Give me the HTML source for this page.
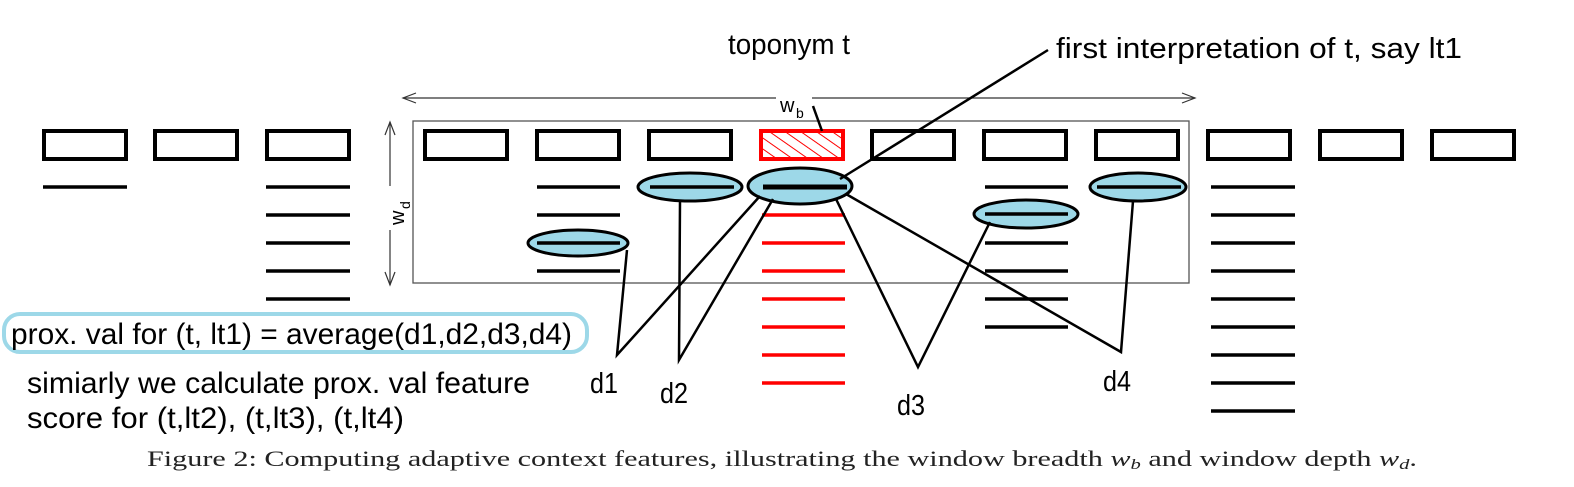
<!DOCTYPE html>
<html><head><meta charset="utf-8"><style>
html,body{margin:0;padding:0;background:#fff;}
svg{display:block;}
</style></head><body>
<svg width="1574" height="487" viewBox="0 0 1574 487" xmlns="http://www.w3.org/2000/svg">
<defs>
<pattern id="hatch" patternUnits="userSpaceOnUse" width="9" height="9" patternTransform="rotate(-55)">
<line x1="0" y1="0" x2="0" y2="9" stroke="#f00" stroke-width="2"/>
</pattern>
</defs>
<rect x="413" y="121" width="776" height="162" fill="none" stroke="#555" stroke-width="1.3"/>
<line x1="403" y1="98" x2="1195" y2="98" stroke="#333" stroke-width="1.2"/>
<polyline points="416,93 403,98 416,103" fill="none" stroke="#333" stroke-width="1.2"/>
<polyline points="1182,93 1195,98 1182,103" fill="none" stroke="#333" stroke-width="1.2"/>
<rect x="776" y="90" width="36" height="22" fill="#fff"/>
<text x="780" y="112" font-size="20" style="font-family:'Liberation Sans',sans-serif">w</text><text x="796" y="118" font-size="14" style="font-family:'Liberation Sans',sans-serif">b</text>
<line x1="390" y1="122" x2="390" y2="285" stroke="#333" stroke-width="1.2"/>
<polyline points="385,135 390,122 395,135" fill="none" stroke="#333" stroke-width="1.2"/>
<polyline points="385,272 390,285 395,272" fill="none" stroke="#333" stroke-width="1.2"/>
<rect x="382" y="186" width="18" height="44" fill="#fff"/>
<g transform="translate(404,225) rotate(-90)" style="font-family:'Liberation Sans',sans-serif"><text x="0" y="0" font-size="20">w</text><text x="16" y="6" font-size="14">d</text></g>
<g fill="none" stroke="#000" stroke-width="4">
<rect x="44" y="131" width="82" height="28"/><rect x="155" y="131" width="82" height="28"/><rect x="267" y="131" width="82" height="28"/>
<rect x="425" y="131" width="82" height="28"/><rect x="537" y="131" width="82" height="28"/><rect x="649" y="131" width="82" height="28"/>
<rect x="872" y="131" width="82" height="28"/><rect x="984" y="131" width="82" height="28"/><rect x="1096" y="131" width="82" height="28"/>
<rect x="1208" y="131" width="82" height="28"/><rect x="1320" y="131" width="82" height="28"/><rect x="1432" y="131" width="82" height="28"/>
</g>
<rect x="761" y="131" width="82" height="28" fill="url(#hatch)" stroke="#f00" stroke-width="4"/>
<g fill="#9dd8e8" stroke="#000" stroke-width="3">
<ellipse cx="578" cy="243" rx="50" ry="13"/>
<ellipse cx="690" cy="187" rx="52" ry="14"/>
<ellipse cx="800" cy="186" rx="52" ry="18"/>
<ellipse cx="1026" cy="214" rx="52" ry="14"/>
<ellipse cx="1138" cy="187" rx="48" ry="14"/>
</g>
<g stroke="#000" stroke-width="3.5">
<line x1="43" y1="187" x2="127" y2="187"/>
<line x1="266" y1="187" x2="350" y2="187"/><line x1="266" y1="215" x2="350" y2="215"/><line x1="266" y1="243" x2="350" y2="243"/><line x1="266" y1="271" x2="350" y2="271"/><line x1="266" y1="299" x2="350" y2="299"/>
<line x1="537" y1="187" x2="620" y2="187"/><line x1="537" y1="215" x2="620" y2="215"/><line x1="537" y1="243" x2="620" y2="243"/><line x1="537" y1="271" x2="620" y2="271"/>
<line x1="650" y1="187" x2="734" y2="187"/>
<line x1="763" y1="187" x2="847" y2="187" stroke-width="5"/>
<line x1="985" y1="187" x2="1068" y2="187"/><line x1="985" y1="214" x2="1068" y2="214"/><line x1="985" y1="243" x2="1068" y2="243"/><line x1="985" y1="271" x2="1068" y2="271"/><line x1="985" y1="299" x2="1068" y2="299"/><line x1="985" y1="327" x2="1068" y2="327"/>
<line x1="1097" y1="187" x2="1181" y2="187"/>
<line x1="1211" y1="187" x2="1295" y2="187"/><line x1="1211" y1="215" x2="1295" y2="215"/><line x1="1211" y1="243" x2="1295" y2="243"/><line x1="1211" y1="271" x2="1295" y2="271"/><line x1="1211" y1="299" x2="1295" y2="299"/><line x1="1211" y1="327" x2="1295" y2="327"/><line x1="1211" y1="355" x2="1295" y2="355"/><line x1="1211" y1="383" x2="1295" y2="383"/><line x1="1211" y1="411" x2="1295" y2="411"/>
</g>
<g stroke="#f00" stroke-width="3.5">
<line x1="762" y1="215" x2="845" y2="215"/><line x1="762" y1="243" x2="845" y2="243"/><line x1="762" y1="271" x2="845" y2="271"/><line x1="762" y1="299" x2="845" y2="299"/><line x1="762" y1="327" x2="845" y2="327"/><line x1="762" y1="355" x2="845" y2="355"/><line x1="762" y1="383" x2="845" y2="383"/>
</g>
<g stroke="#000" stroke-width="2.5" fill="none">
<polyline points="627,250 617,355 760,196"/>
<polyline points="680,201 679,360 773,199"/>
<polyline points="836,199 918,367 990,222"/>
<polyline points="846,194 1121,352 1133,201"/>
<line x1="813" y1="106" x2="822" y2="131"/>
<line x1="1048" y1="50" x2="840" y2="179"/>
</g>
<g style="font-family:'Liberation Sans',sans-serif" font-size="29" fill="#000">
<text x="728" y="54" textLength="122" lengthAdjust="spacingAndGlyphs">toponym t</text>
<text x="1056" y="58" textLength="406" lengthAdjust="spacingAndGlyphs">first interpretation of t, say lt1</text>
<text x="590" y="393" textLength="28" lengthAdjust="spacingAndGlyphs">d1</text>
<text x="660" y="403" textLength="28" lengthAdjust="spacingAndGlyphs">d2</text>
<text x="897" y="415" textLength="28" lengthAdjust="spacingAndGlyphs">d3</text>
<text x="1103" y="391" textLength="28" lengthAdjust="spacingAndGlyphs">d4</text>
</g>
<rect x="4" y="314" width="583" height="38" rx="16" fill="none" stroke="#9dd8e8" stroke-width="4"/>
<g style="font-family:'Liberation Sans',sans-serif" font-size="30" fill="#000">
<text x="11" y="344" textLength="561" lengthAdjust="spacingAndGlyphs">prox. val for (t, lt1) = average(d1,d2,d3,d4)</text>
<text x="27" y="393" textLength="503" lengthAdjust="spacingAndGlyphs">simiarly we calculate prox. val feature</text>
<text x="27" y="428" textLength="377" lengthAdjust="spacingAndGlyphs">score for (t,lt2), (t,lt3), (t,lt4)</text>
</g>
<text x="147" y="466" textLength="1270" lengthAdjust="spacingAndGlyphs" fill="#222" style="font-family:'Liberation Serif',serif" font-size="22">Figure 2: Computing adaptive context features, illustrating the window breadth <tspan font-style="italic">w</tspan><tspan font-style="italic" font-size="15" dy="3">b</tspan><tspan dy="-3"> and window depth </tspan><tspan font-style="italic">w</tspan><tspan font-style="italic" font-size="15" dy="3">d</tspan><tspan dy="-3">.</tspan></text>
</svg>
</body></html>
